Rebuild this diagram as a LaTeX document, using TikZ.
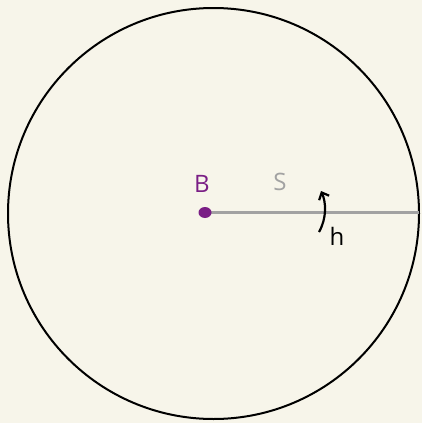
\documentclass[tikz,border=0pt]{standalone}
\usepackage{fontspec}
\setmainfont{Open Sans}
\usetikzlibrary{arrows.meta, shapes.geometric}
\definecolor{paper}{HTML}{F7F5EA}
\definecolor{bpurple}{HTML}{7A1E85}
\definecolor{sgray}{HTML}{A2A2A2}
\begin{document}
\begin{tikzpicture}[x=1pt, y=-1pt, font=\fontsize{24}{28}\selectfont]
        \tikzset{
            rim/.style={draw=black, line width=2pt},
            radius line/.style={draw=sgray, line width=2.6pt},
            centre dot/.style={ellipse, fill=bpurple, inner sep=0pt, minimum width=13pt, minimum height=11pt},
            turn arrow/.style={draw=black, line width=2.2pt, -{Straight Barb[length=6pt,width=11pt]}}
        }

        % background and bounds
        \fill[paper] (0,0) rectangle (422,423);
        \useasboundingbox (0,0) rectangle (422,423);

        % wheel
        \draw[rim] (213.5,213.5) circle (205.5);
        \coordinate (rimpt) at (419,212.5);

        % centre and radius
        \draw[radius line] (205,212.5) -- (rimpt);
        \node[centre dot] (B) at (205,212.5) {};
        \node[text=bpurple] (Blabel) at (202,184) {B};
        \node[text=sgray] (Slabel) at (280,182) {S};

        % rotation
        \coordinate (hfoot) at (319,232);
        \coordinate (htip) at (321,191);
        \draw[turn arrow] (hfoot) .. controls (327,218) and (326,202) .. (htip);
        \node (hlabel) at (337,236) {h};
\end{tikzpicture}
\end{document}
